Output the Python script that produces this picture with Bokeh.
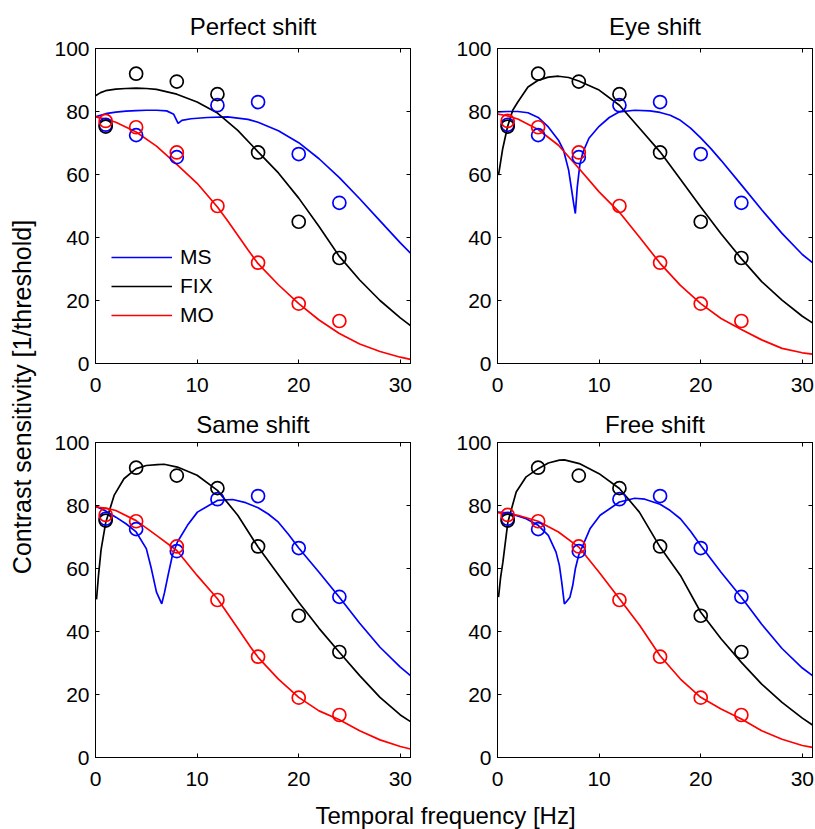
from bokeh.plotting import figure
from bokeh.layouts import row, column
from bokeh.models import Range1d, LinearAxis, FixedTicker, Legend, LegendItem, Title
from bokeh.embed import file_html
from bokeh.resources import INLINE

FONT = "Liberation Sans"

# ---------------- data ----------------
freq_pts = [1, 4, 8, 12, 16, 20, 24]
ms_pts = [75.8, 72.5, 65.5, 82.0, 83.0, 66.5, 51.0]
fix_pts = [75.2, 92.0, 89.5, 85.5, 67.0, 45.0, 33.5]
mo_pts = [77.0, 75.0, 67.0, 50.0, 32.0, 19.0, 13.5]

panel_titles = ["Perfect shift", "Eye shift", "Same shift", "Free shift"]
series_names = ["MS", "FIX", "MO"]
series_colors = ["#0000ff", "#000000", "#ff0000"]

# Perfect shift model curves
perfect_ms_x = [0, 1, 2, 3, 4, 5, 6, 7, 7.7, 8.13, 8.5, 9.4, 11, 13, 15, 16, 18, 20, 22, 24, 26, 28, 30, 31]
perfect_ms_y = [78.3, 79.3, 79.8, 80.1, 80.3, 80.4, 80.4, 80.2, 79.1, 76.2, 77.2, 77.7, 78.1, 78.3, 77.5, 76.6, 73.9, 70.1, 65.0, 59.0, 52.3, 45.3, 38.3, 35.0]
perfect_fix_x = [0, 0.5, 1, 2, 3, 4, 5, 6, 8, 10, 12, 14, 16, 18, 20, 22, 24, 26, 28, 30, 31]
perfect_fix_y = [85.0, 86.0, 86.6, 87.1, 87.3, 87.4, 87.3, 87.0, 85.5, 83.0, 79.5, 74.0, 67.2, 60.5, 52.5, 43.5, 34.0, 26.5, 20.0, 14.5, 12.0]
perfect_mo_x = [0, 1, 2, 4, 6, 8, 10, 12, 13, 14, 15, 16, 18, 20, 22, 24, 26, 28, 30, 31]
perfect_mo_y = [78.3, 77.6, 76.6, 73.5, 69.0, 63.2, 57.2, 49.7, 45.3, 40.7, 36.1, 31.7, 25.0, 19.0, 13.8, 9.5, 6.2, 3.8, 2.0, 1.3]

# Eye shift model curves
eye_ms_x = [0, 1, 2, 3, 4, 5, 6, 6.5, 7, 7.3, 7.5, 7.66, 7.85, 8.1, 8.4, 9, 10, 11, 12, 13.5, 15, 16, 17, 18, 19, 20, 21, 22, 24, 26, 28, 30, 31]
eye_ms_y = [79.9, 80.0, 80.0, 79.6, 78.1, 75.1, 70.9, 67.7, 61.4, 55.0, 50.7, 47.6, 56.0, 63.0, 67.0, 71.5, 75.3, 78.1, 79.9, 80.4, 80.2, 79.7, 78.8, 77.2, 74.7, 71.6, 68.2, 64.5, 56.7, 48.8, 41.3, 34.6, 32.0]
eye_fix_x = [0.1, 0.5, 1, 1.5, 2, 3, 4, 5, 6, 7, 8, 10, 12, 14, 16, 18, 20, 22, 24, 26, 28, 30, 31]
eye_fix_y = [59.8, 68.0, 75.3, 80.4, 83.0, 87.8, 89.9, 90.9, 91.2, 90.8, 89.7, 86.8, 82.0, 74.6, 67.2, 58.5, 49.7, 41.2, 33.3, 26.0, 20.1, 15.0, 12.9]
eye_mo_x = [0, 1, 2, 4, 6, 8, 10, 12, 14, 16, 18, 20, 22, 24, 26, 28, 30, 31]
eye_mo_y = [79.2, 78.6, 77.6, 74.3, 69.3, 62.0, 54.5, 48.0, 40.0, 31.8, 24.8, 19.0, 14.3, 10.8, 7.5, 4.8, 3.4, 3.0]

# Same shift model curves
same_ms_x = [0, 1, 2, 3, 4, 5, 5.5, 6, 6.52, 6.8, 7.14, 7.57, 8.06, 9.05, 10.03, 12, 13.5, 14.78, 16, 17, 18, 19, 20, 22, 24, 26, 28, 30, 31]
same_ms_y = [79.8, 78.3, 76.3, 74.2, 71.6, 66.3, 59.9, 52.5, 48.8, 52.5, 57.8, 64.2, 68.4, 73.7, 77.9, 81.6, 81.9, 80.9, 79.3, 77.3, 74.7, 70.8, 66.5, 58.8, 50.9, 42.6, 35.0, 28.7, 26.0]
same_fix_x = [0.1, 0.3, 0.55, 1.0, 1.83, 2.8, 4, 5, 6.1, 6.75, 8.06, 10, 12, 14, 16, 18, 20, 22, 24, 26, 28, 30, 31]
same_fix_y = [50.2, 58.0, 66.0, 74.5, 83.2, 88.5, 91.7, 92.7, 93.0, 93.1, 92.2, 89.6, 84.8, 76.9, 66.8, 58.0, 49.3, 41.0, 33.4, 26.0, 19.1, 13.5, 11.4]
same_mo_x = [0, 1, 2, 4, 6, 8, 10, 12, 14, 15.27, 16, 18, 20, 22, 24, 26, 28, 30, 31]
same_mo_y = [79.5, 79.2, 78.4, 75.2, 70.5, 65.7, 57.8, 50.4, 41.0, 35.0, 31.8, 24.9, 19.1, 14.8, 12.0, 8.5, 5.6, 3.5, 2.7]

# Free shift model curves
free_ms_x = [0, 1, 2.82, 4, 5, 5.76, 6.09, 6.32, 6.48, 6.58, 6.74, 7.13, 7.4, 7.66, 7.99, 9.1, 10.1, 12, 13.5, 14.5, 16, 17, 18, 19, 20, 22, 24, 26, 28, 30, 31]
free_ms_y = [77.9, 77.7, 75.8, 73.7, 70.5, 65.2, 61.0, 55.7, 51.4, 48.8, 49.3, 50.9, 54.6, 59.9, 64.2, 72.6, 76.9, 81.1, 82.3, 82.0, 80.4, 78.4, 75.8, 71.8, 67.3, 58.8, 50.9, 42.3, 34.6, 28.4, 26.0]
free_fix_x = [0.1, 0.3, 0.53, 1.02, 1.84, 2.82, 4, 5, 6.1, 6.58, 8.05, 10, 12, 13.96, 16, 18, 20, 22, 24, 26, 28, 30, 31]
free_fix_y = [50.9, 57.0, 62.0, 74.7, 84.3, 89.1, 91.7, 93.5, 94.4, 94.5, 93.3, 90.1, 85.4, 77.9, 66.8, 57.8, 46.1, 37.7, 30.2, 23.3, 17.5, 12.5, 10.3]
free_mo_x = [0, 1, 2, 4, 6, 8, 10, 12, 14, 16, 18, 20, 22, 24, 26, 28, 30, 31]
free_mo_y = [77.7, 77.4, 76.9, 75.0, 71.6, 66.8, 58.8, 50.4, 41.9, 32.3, 24.9, 19.1, 15.4, 12.2, 8.5, 5.8, 3.8, 3.2]

x_ticks = [0, 10, 20, 30]
y_ticks = [0, 20, 40, 60, 80, 100]
x_limits = (0, 31)
y_limits = (0, 100)

panel_curves = [
    [(perfect_ms_x, perfect_ms_y), (perfect_fix_x, perfect_fix_y), (perfect_mo_x, perfect_mo_y)],
    [(eye_ms_x, eye_ms_y), (eye_fix_x, eye_fix_y), (eye_mo_x, eye_mo_y)],
    [(same_ms_x, same_ms_y), (same_fix_x, same_fix_y), (same_mo_x, same_mo_y)],
    [(free_ms_x, free_ms_y), (free_fix_x, free_fix_y), (free_mo_x, free_mo_y)],
]
point_sets = [ms_pts, fix_pts, mo_pts]

FRAME = 315


def style_axis(ax, ticks, labels=True):
    ax.ticker = FixedTicker(ticks=ticks)
    ax.major_tick_in = 4
    ax.major_tick_out = 0
    ax.minor_tick_line_color = None
    ax.major_tick_line_color = "#000000"
    ax.major_tick_line_width = 1
    ax.axis_line_color = "#000000"
    ax.axis_line_width = 1
    ax.major_label_text_font = FONT
    if labels:
        ax.major_label_text_color = "#000000"
        ax.major_label_text_font_size = "21px"
    else:
        # tick marks only: labels are not drawn at all
        ax.major_label_text_color = None
        ax.major_label_text_font_size = "1px"
        ax.major_label_standoff = 0


def make_panel(idx, bl, br, bt, bb, title_standoff, legend=False):
    p = figure(width=bl + FRAME + br, height=bt + FRAME + bb,
               x_range=Range1d(*x_limits), y_range=Range1d(*y_limits),
               output_backend="svg", toolbar_location=None, tools="",
               min_border_left=bl, min_border_right=br,
               min_border_top=bt, min_border_bottom=bb)
    p.title.text = panel_titles[idx]
    p.title.align = "center"
    p.title.text_font = FONT
    p.title.text_font_size = "24px"
    p.title.text_font_style = "normal"
    p.title.text_color = "#000000"
    p.title.standoff = title_standoff
    p.grid.visible = False
    p.outline_line_color = "#000000"
    p.outline_line_width = 1
    p.background_fill_color = "#ffffff"
    p.border_fill_color = "#ffffff"

    style_axis(p.xaxis[0], x_ticks)
    style_axis(p.yaxis[0], y_ticks)
    p.xaxis[0].major_label_standoff = 14
    p.yaxis[0].major_label_standoff = 6
    top_ax = LinearAxis()
    right_ax = LinearAxis()
    p.add_layout(top_ax, "above")
    p.add_layout(right_ax, "right")
    style_axis(top_ax, x_ticks, labels=False)
    style_axis(right_ax, y_ticks, labels=False)

    line_renderers = []
    for (cx, cy), color in zip(panel_curves[idx], series_colors):
        r = p.line(cx, cy, line_color=color, line_width=1.7)
        line_renderers.append(r)
    for pts, color in zip(point_sets, series_colors):
        p.scatter(freq_pts, pts, marker="circle", size=13, fill_color=None,
                  line_color=color, line_width=1.7)

    if legend:
        items = [LegendItem(label=n, renderers=[r]) for n, r in zip(series_names, line_renderers)]
        lg = Legend(items=items, location=(16, 36), padding=0, margin=0,
                    glyph_width=61, glyph_height=24, label_height=24, spacing=5,
                    label_standoff=8, label_text_font=FONT, label_text_font_size="21px",
                    label_text_color="#000000",
                    border_line_color=None, background_fill_alpha=0)
        p.add_layout(lg, "center")
    return p


p1 = make_panel(0, 47, 10, 48, 40, 18, legend=True)
p2 = make_panel(1, 77, 3, 48, 40, 18)
p3 = make_panel(2, 47, 10, 39, 36, 10)
p4 = make_panel(3, 77, 3, 39, 36, 10)

# x label strip
xlab = figure(width=(47 + FRAME + 10) + (77 + FRAME + 3), height=36,
              output_backend="svg", toolbar_location=None, tools="",
              x_axis_type=None, y_axis_type=None,
              min_border_left=27, min_border_right=0, min_border_top=35, min_border_bottom=0)
xlab.outline_line_color = None
xlab.grid.visible = False
xlab.title.text = "Temporal frequency [Hz]"
xlab.title.align = "center"
xlab.title.text_font = FONT
xlab.title.text_font_size = "24px"
xlab.title.text_font_style = "normal"
xlab.title.text_color = "#000000"
xlab.title.standoff = 0

# y label strip
ylab = figure(width=48, height=(48 + FRAME + 40) + (39 + FRAME + 36),
              output_backend="svg", toolbar_location=None, tools="",
              x_axis_type=None, y_axis_type=None,
              min_border_left=35, min_border_right=0, min_border_top=0, min_border_bottom=0)
ylab.outline_line_color = None
ylab.grid.visible = False
ylab.add_layout(Title(text="Contrast sensitivity [1/threshold]", align="center",
                      text_font=FONT, text_font_size="25px", text_font_style="normal",
                      text_color="#000000", standoff=0), "left")

layout = row(ylab, column(row(p1, p2), row(p3, p4), xlab))

with open("out.html", "w") as f:
    f.write(file_html(layout, INLINE))
